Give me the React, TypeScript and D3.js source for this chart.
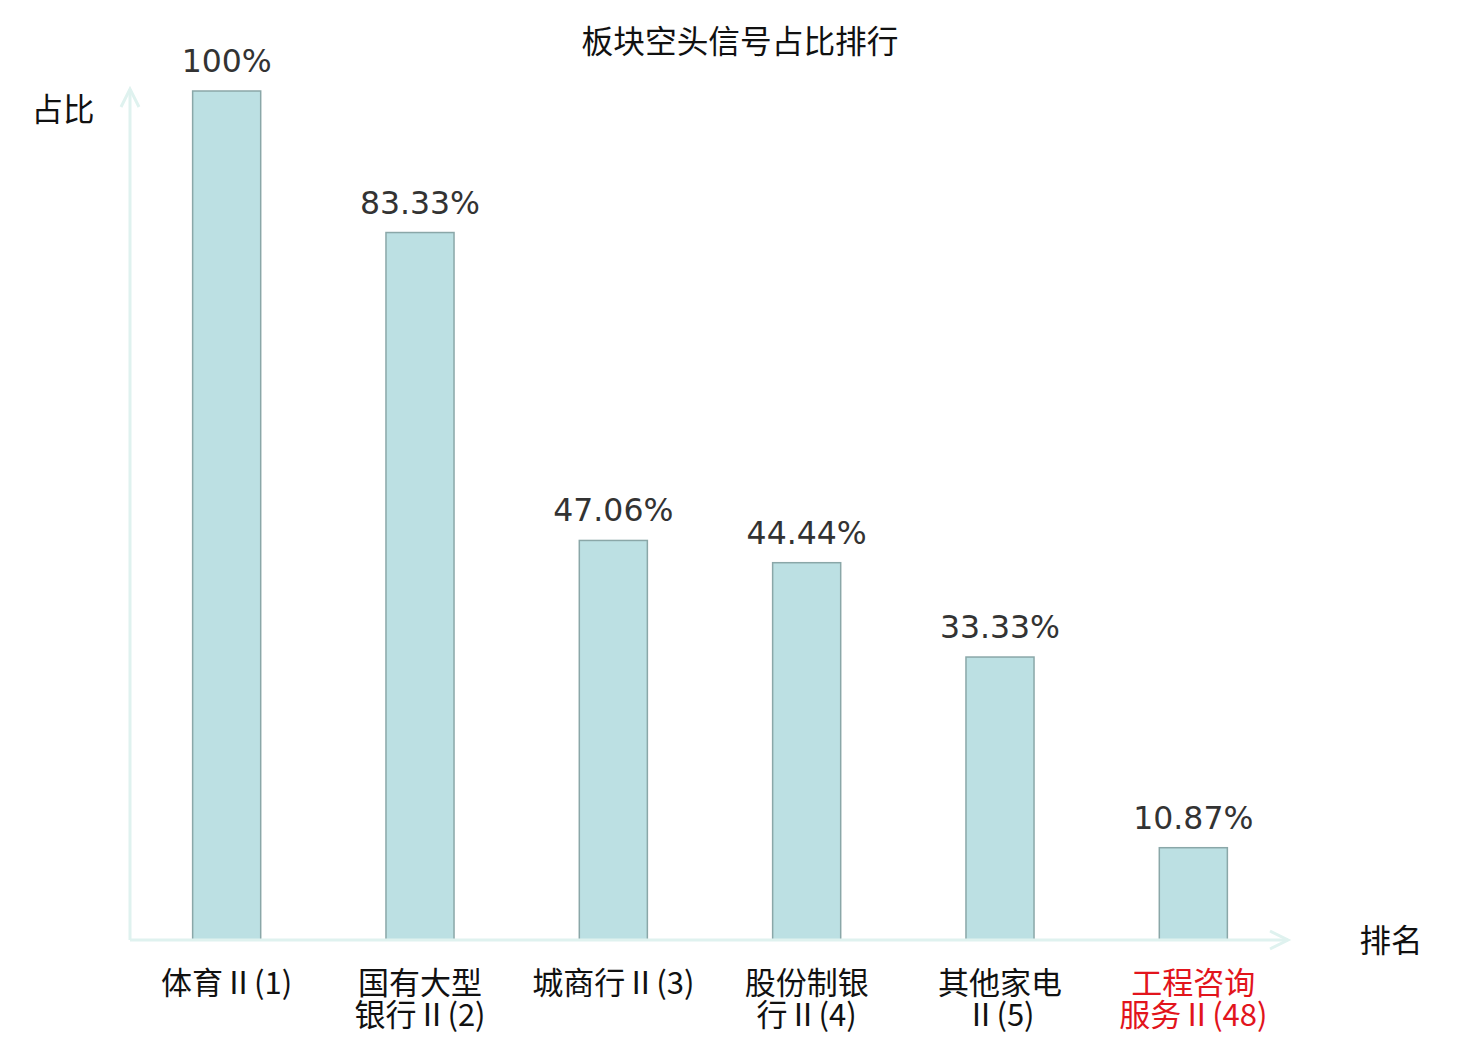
import React from "react";
import * as d3 from "d3";

const title = "板块空头信号占比排行";
const yAxisName = "占比";
const xAxisName = "排名";
const categories: string[][] = [
  ["体育Ⅱ(1)"],
  ["国有大型", "银行Ⅱ(2)"],
  ["城商行Ⅱ(3)"],
  ["股份制银", "行Ⅱ(4)"],
  ["其他家电", "Ⅱ(5)"],
  ["工程咨询", "服务Ⅱ(48)"],
];
const values = [100, 83.33, 47.06, 44.44, 33.33, 10.87];
const valueLabels = ["100%", "83.33%", "47.06%", "44.44%", "33.33%", "10.87%"];
const highlightIndex = 5;

const W = 1480;
const H = 1040;
const x0 = 130;
const x1 = 1290;
const yBase = 940;
const yTop = 91;

const CJK = "'Noto Sans CJK SC', 'Noto Sans', sans-serif";
const LABEL = "'DejaVu Sans ExtraLight', 'Noto Sans CJK SC', sans-serif";
const NUM = "'DejaVu Sans', 'Noto Sans CJK SC', sans-serif";

export default function App() {
  const x = d3
    .scaleBand<number>()
    .domain(values.map((_, i) => i))
    .range([x0, x1])
    .paddingInner(0.648)
    .paddingOuter(0.324);
  const y = d3.scaleLinear().domain([0, 100]).range([yBase, yTop]);
  const axisColor = "#dff2ef";

  return (
    <svg
      width={W}
      height={H}
      style={{ position: "absolute", left: 0, top: 0, background: "#fff" }}
    >
      <text x={740} y={53} textAnchor="middle" fontFamily={CJK} fontSize={31.7} fill="#111">
        {title}
      </text>
      {/* axes */}
      <line x1={x0} y1={yBase} x2={x0} y2={89} stroke={axisColor} strokeWidth={3} />
      <polyline
        points={`${x0 - 9},${107} ${x0},${89} ${x0 + 9},${107}`}
        fill="none"
        stroke={axisColor}
        strokeWidth={3}
      />
      <text x={63} y={121} textAnchor="middle" fontFamily={CJK} fontSize={31.5} fill="#111">
        {yAxisName}
      </text>
      {values.map((v, i) => {
        const bx = x(i)!;
        const bw = x.bandwidth();
        const cx = bx + bw / 2;
        const top = y(v);
        const lines = categories[i];
        const color = i === highlightIndex ? "#e2141c" : "#111";
        return (
          <g key={i}>
            <rect
              x={bx}
              y={top}
              width={bw}
              height={yBase - top}
              fill="#bce0e3"
              stroke="#8aa7a8"
              strokeWidth={1.5}
            />
            <text
              x={cx}
              y={top - 19}
              textAnchor="middle"
              fontFamily={NUM}
              fontSize={31.5}
              fill="#333"
            >
              {valueLabels[i]}
            </text>
            {lines.map((l, j) => (
              <text
                key={j}
                x={cx}
                y={994 + j * 32}
                textAnchor="middle"
                fontFamily={LABEL}
                fontSize={31}
                fill={color}
              >
                {l}
              </text>
            ))}
          </g>
        );
      })}
      <line x1={x0} y1={yBase} x2={1288} y2={yBase} stroke={axisColor} strokeWidth={3} />
      <polyline
        points={`${1270},${yBase - 9} ${1288},${yBase} ${1270},${yBase + 9}`}
        fill="none"
        stroke={axisColor}
        strokeWidth={3}
      />
      <text x={1391} y={952} textAnchor="middle" fontFamily={CJK} fontSize={31.5} fill="#111">
        {xAxisName}
      </text>
    </svg>
  );
}
